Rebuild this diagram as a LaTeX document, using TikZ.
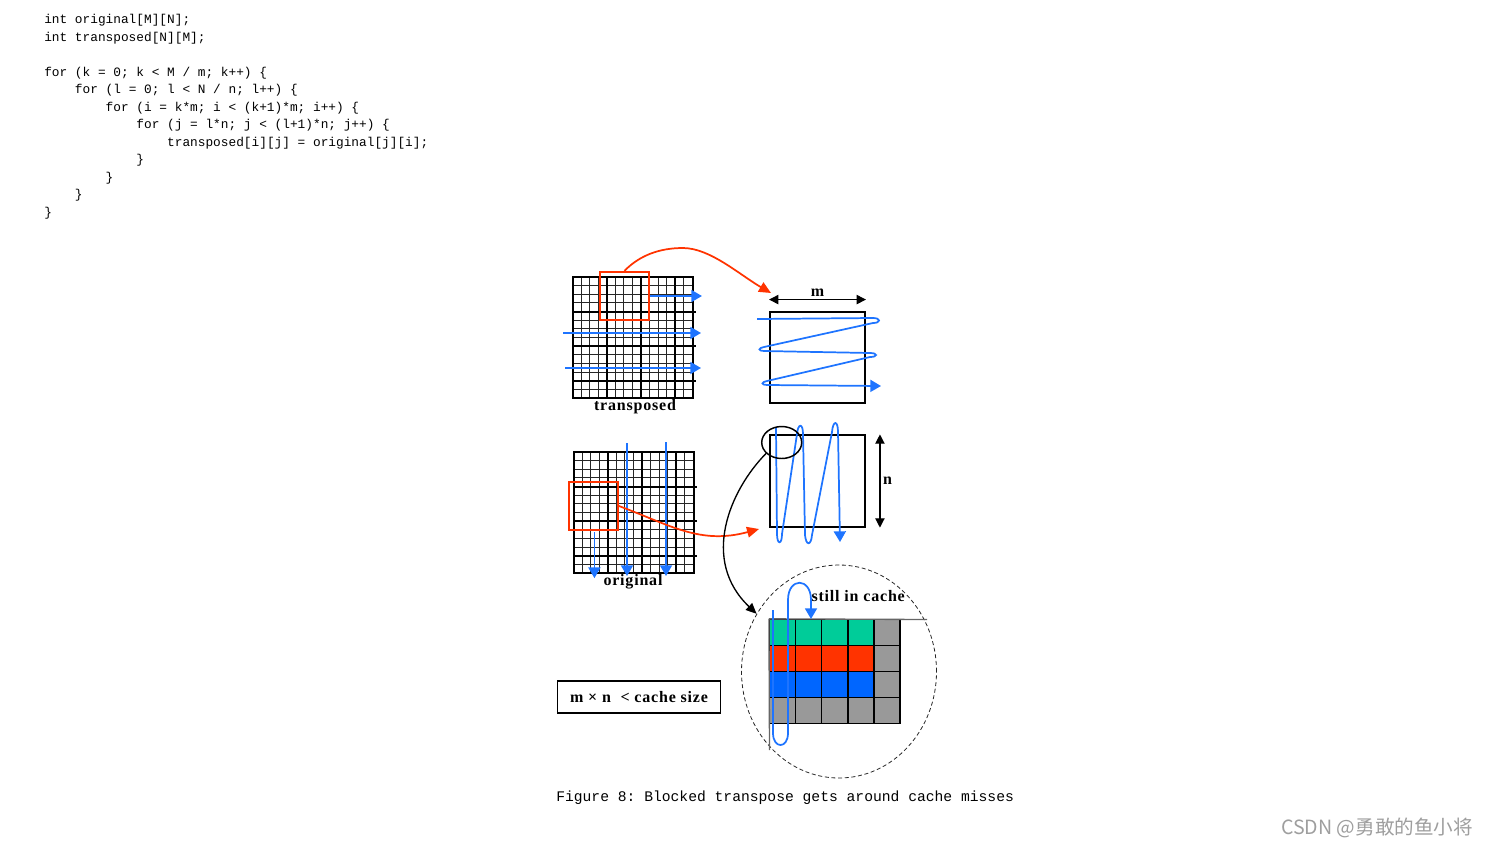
\documentclass[tikz,border=0pt]{standalone}
\usepackage{fontspec}
\usepackage{tikz}
\usetikzlibrary{positioning,arrows.meta,shapes.geometric,calc}
\newfontfamily\codefont{Liberation Mono}
\newfontfamily\tagfont[LetterSpace=5]{Liberation Serif}
\newfontfamily\cjkfont{Noto Sans CJK SC}
\definecolor{lineblue}{HTML}{1E74FF}
\definecolor{cellblue}{HTML}{0066FF}
\definecolor{redc}{HTML}{FF3300}
\definecolor{cgreen}{HTML}{00CC99}
\definecolor{cgray}{HTML}{999999}
\newcommand{\ind}{\phantom{xxxx}}
\frenchspacing
\tikzset{
  thinline/.style={line width=0.75pt, black!85},
  thickline/.style={line width=1.5pt, black},
  bluearrow/.style={-{Triangle[length=8pt, width=9pt]}, line width=1.3pt, lineblue},
  redarrow/.style={-{Triangle[length=9pt, width=8pt]}, line width=1.3pt, redc},
  blackarrow/.style={-{Triangle[length=8pt, width=7pt]}, line width=1pt},
  dimarrow/.style={{Triangle[length=7pt, width=7pt]}-{Triangle[length=7pt, width=7pt]}, line width=0.9pt},
  redblock/.style={draw=redc, line width=1.4pt, minimum width=36.75pt, minimum height=36.4pt, inner sep=0},
  blockbox/.style={draw, line width=1.4pt, minimum width=71.25pt, minimum height=68.5pt, inner sep=0},
  cell/.style={draw, line width=1pt, minimum size=19.5pt, inner sep=0},
  cacheline/.style={line width=1pt, black!60},
  tag/.style={font=\tagfont\bfseries\fontsize{12}{14}\selectfont, inner sep=1pt},
  codetext/.style={font=\codefont\fontsize{9.6}{13.125}\selectfont, align=left, inner sep=0},
  condbox/.style={draw, line width=0.8pt, minimum width=122.25pt, minimum height=24pt, inner sep=0}
}
% 14x14 block grid, #1,#2 = top left corner (px)
\newcommand{\blockgrid}[2]{%
  \foreach \k in {0,...,14} {
    \draw[thinline] (#1+\k*8.57,#2) -- ++(0,121);
    \draw[thinline] (#1,#2+\k*8.64) -- ++(120,0);
  }
  \foreach \k in {4,8,12} {
    \draw[thickline] (#1+\k*8.57,#2) -- ++(0,121);
    \draw[thickline] (#1,#2+\k*8.64) -- ++(123,0);
  }
  \draw[thickline] (#1,#2) rectangle ++(120,121);
}

\begin{document}
\begin{tikzpicture}[x=0.75pt, y=-0.75pt]
  \useasboundingbox (0,0) rectangle (1488,847);

  % code
  \node[codetext, anchor=north west] (code) at (44,14) {int original[M][N];\\
    int transposed[N][M];\\[13.125pt]
    for (k = 0; k < M / m; k++) \{\\
    \ind for (l = 0; l < N / n; l++) \{\\
    \ind\ind for (i = k*m; i < (k+1)*m; i++) \{\\
    \ind\ind\ind for (j = l*n; j < (l+1)*n; j++) \{\\
    \ind\ind\ind\ind transposed[i][j] = original[j][i];\\
    \ind\ind\ind\}\\
    \ind\ind\}\\
    \ind\}\\
    \}};

  % transposed
  \blockgrid{572.5}{277}
  \node[tag] (tname) at (635,407) {transposed};
  \node[redblock] (tred) at (624.5,296) {};
  \draw[bluearrow] (tred.east) -- ++(52,0);
  \draw[bluearrow] (563,333) -- (701,333);
  \draw[bluearrow] (565,368) -- (701,368);

  \node[blockbox] (mbox) at (817.5,357.5) {};
  \draw[dimarrow] ([yshift=8.5pt]mbox.north west) -- ([yshift=8.5pt]mbox.north east)
    node[midway, above=1pt, tag] (mlab) {m};
  \coordinate (mtip) at (771,293);
  \draw[redarrow] (tred.north) .. controls (640,255) and (660,248) .. (683,248)
    .. controls (710,248) and (740,275) .. (mtip);
  \draw[bluearrow] (757,319) -- (873,318) .. controls (881,318) and (881,323) .. (873,323)
    -- (764,347) .. controls (758,348) and (758,351) .. (764,351)
    -- (870,353) .. controls (878,353) and (878,357) .. (870,357)
    -- (767,381) .. controls (761,382) and (761,385) .. (767,385) -- (881,386);

  % original
  \blockgrid{573.5}{452}
  \node[tag] (oname) at (633,582) {original};
  \node[redblock] (ored) at (593.5,506) {};
  \draw[bluearrow] ([xshift=0.7pt, yshift=-0.7pt]ored.south) -- ++(0,46);
  \draw[bluearrow] (627,443) -- (627,576);
  \draw[bluearrow] (666,442) -- (666,576);

  \node[blockbox] (nbox) at (817.5,481) {};
  \draw[dimarrow] ([xshift=10.5pt]nbox.north east) -- ([xshift=10.5pt]nbox.south east)
    node[midway, right=1pt, tag] (nlab) {n};
  \coordinate (ntip) at (759,529);
  \draw[redarrow] (ored.east) .. controls (670,525) and (700,545) .. (ntip);
  \draw[bluearrow] (776,428) -- (777,534) .. controls (777,545) and (782,545) .. (782,534)
    -- (797,434) .. controls (798,423) and (803,423) .. (803,434)
    -- (805,535) .. controls (806,546) and (811,546) .. (812,535)
    -- (832,432) .. controls (833,420) and (838,420) .. (838,432) -- (840,542);
  \node[draw, ellipse, line width=1.1pt, minimum width=30pt, minimum height=24pt, inner sep=0] (hot) at (781.7,442.5) {};

  % cache
  \node[draw, dashed, dash pattern=on 3pt off 2pt, ellipse, line width=0.6pt, black!85,
    minimum width=146.25pt, minimum height=159.75pt, inner sep=0] (cache) at (839,671.5) {};
  \draw[blackarrow] (hot.215) .. controls (730,490) and (700,560) .. (cache.145);
  \foreach \r/\colr in {0/cgreen,1/redc,2/cellblue,3/cgray} {
    \foreach \c in {0,...,3}
      \node[cell, fill=\colr] (c\r\c) at (782.6+\c*26.1,632.5+\r*26) {};
    \node[cell, fill=cgray] (c\r4) at (782.6+4*26.1,632.5+\r*26) {};
  }
  \draw[cacheline] (c00.north west) -- (927,619.5);
  \draw[cacheline] (c00.north west) -- (769.5,750);
  \draw[bluearrow] (773,610) -- (773,733) .. controls (773,749) and (788,749) .. (788,733)
    -- (788,600) .. controls (788,577) and (811,577) .. (811,600) -- (811,619);
  \node[tag, anchor=west] (still) at (810,596) {still in cache};

  \node[condbox] (cond) at (639,697) {\tagfont\bfseries\fontsize{12}{14}\selectfont m × n \ < cache size};

  % caption
  \node[anchor=west, inner sep=0, font=\codefont\fontsize{11}{13}\selectfont] (cap) at (556,798)
    {Figure 8: Blocked transpose gets around cache misses};
  \node[anchor=west, inner sep=0, text=black!38, font=\cjkfont\fontsize{14.7}{16}\selectfont] (wm) at (1281,828)
    {CSDN @勇敢的鱼小将};
\end{tikzpicture}
\end{document}
